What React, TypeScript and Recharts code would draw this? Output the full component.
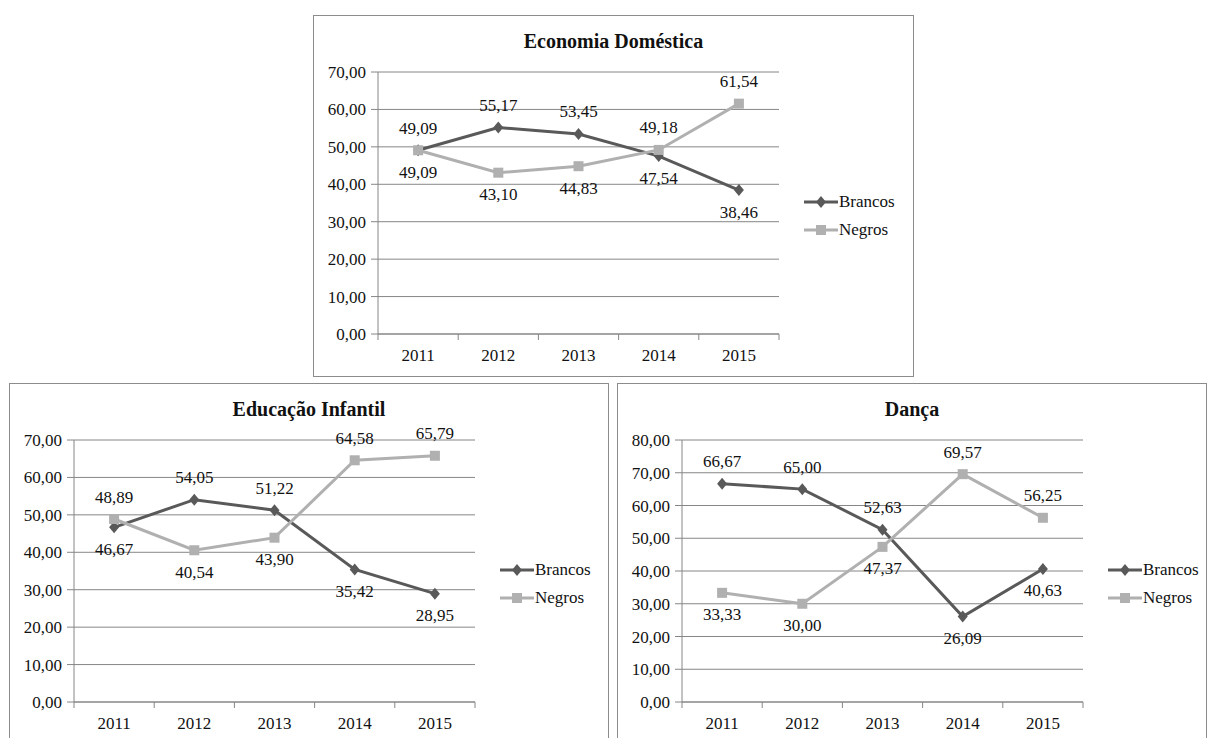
import React from 'react'
import { LineChart, Line, XAxis, YAxis, CartesianGrid, Legend } from 'recharts'

const years = ['2011', '2012', '2013', '2014', '2015']

const ecoBrancos = [49.09, 55.17, 53.45, 47.54, 38.46]
const ecoNegros = [49.09, 43.1, 44.83, 49.18, 61.54]
const eduBrancos = [46.67, 54.05, 51.22, 35.42, 28.95]
const eduNegros = [48.89, 40.54, 43.9, 64.58, 65.79]
const dancaBrancos = [66.67, 65.0, 52.63, 26.09, 40.63]
const dancaNegros = [33.33, 30.0, 47.37, 69.57, 56.25]

const ticks70 = [0, 10, 20, 30, 40, 50, 60, 70]
const ticks80 = [0, 10, 20, 30, 40, 50, 60, 70, 80]

type Pos = 'top' | 'bottom'
// where each data label sits relative to its point
const ecoBrancosPos: Pos[] = ['top', 'top', 'top', 'bottom', 'bottom']
const ecoNegrosPos: Pos[] = ['bottom', 'bottom', 'bottom', 'top', 'top']
const eduBrancosPos: Pos[] = ['bottom', 'top', 'top', 'bottom', 'bottom']
const eduNegrosPos: Pos[] = ['top', 'bottom', 'bottom', 'top', 'top']
const dancaBrancosPos: Pos[] = ['top', 'top', 'top', 'bottom', 'bottom']
const dancaNegrosPos: Pos[] = ['bottom', 'bottom', 'bottom', 'top', 'top']

const FONT = "'Liberation Serif', 'DejaVu Serif', 'Noto Serif', serif"
const DARK = '#595959'
const LIGHT = '#b0b0b0'
const AXIS = '#868686'

const PLOT_LEFT = 65
const PLOT_TOP = 57
const PLOT_W = 401
const PLOT_H = 262
const X_AXIS_H = 30

const fmt = (v: number) => v.toFixed(2).replace('.', ',')

const Diamond = (props: any) => {
  const { cx, cy } = props
  if (cx == null || cy == null) return null
  return <polygon points={`${cx},${cy - 6} ${cx + 5},${cy} ${cx},${cy + 6} ${cx - 5},${cy}`} fill={DARK} />
}

const Square = (props: any) => {
  const { cx, cy } = props
  if (cx == null || cy == null) return null
  return <rect x={cx - 5} y={cy - 5} width={10} height={10} fill={LIGHT} />
}

const makeLabel = (pos: Pos[]) => (props: any) => {
  const { x, y, value, index } = props
  const dy = pos[index] === 'top' ? -22 : 22
  return (
    <text x={x} y={y + dy} textAnchor="middle" dominantBaseline="central" style={{ fontFamily: FONT }} fontSize={17} fill="#111">
      {fmt(value)}
    </text>
  )
}

const series = [
  { name: 'Brancos', color: DARK, shape: 'diamond' },
  { name: 'Negros', color: LIGHT, shape: 'square' },
]

const LegendBox = () => (
  <div style={{ fontFamily: FONT, fontSize: 17, color: '#111' }}>
    {series.map(s => (
      <div key={s.name} style={{ display: 'flex', alignItems: 'center', height: 28 }}>
        <svg width={34} height={14} style={{ display: 'block' }}>
          <line x1={0} x2={34} y1={7} y2={7} stroke={s.color} strokeWidth={3} />
          {s.shape === 'diamond'
            ? <polygon points="17,1 22,7 17,13 12,7" fill={s.color} />
            : <rect x={12} y={2} width={10} height={10} fill={s.color} />}
        </svg>
        <span style={{ marginLeft: 1, lineHeight: '20px' }}>{s.name}</span>
      </div>
    ))}
  </div>
)

interface PanelProps {
  title: string
  brancos: number[]
  negros: number[]
  brancosPos: Pos[]
  negrosPos: Pos[]
  ticks: number[]
  left: number
  top: number
  width: number
  height: number
}

const Panel = ({ title, brancos, negros, brancosPos, negrosPos, ticks, left, top, width, height }: PanelProps) => {
  const data = years.map((y, i) => ({ year: y, Brancos: brancos[i], Negros: negros[i] }))
  const band = PLOT_W / years.length

  const XTick = (props: any) => {
    const { x, y, payload, index } = props
    return (
      <g>
        <line x1={x - band / 2} x2={x - band / 2} y1={y} y2={y + 6} stroke={AXIS} />
        {index === years.length - 1 && <line x1={x + band / 2} x2={x + band / 2} y1={y} y2={y + 6} stroke={AXIS} />}
        <text x={x} y={y + 21} textAnchor="middle" dominantBaseline="central" style={{ fontFamily: FONT }} fontSize={17} fill="#111">
          {payload.value}
        </text>
      </g>
    )
  }

  return (
    <div style={{ position: 'absolute', left, top, width, height, background: '#fff', fontFamily: FONT }}>
      <LineChart
        width={width}
        height={height}
        data={data}
        style={{ fontFamily: FONT }}
        margin={{ top: PLOT_TOP, right: width - PLOT_LEFT - PLOT_W, bottom: height - PLOT_TOP - PLOT_H - X_AXIS_H, left: 0 }}
      >
        <CartesianGrid vertical={false} stroke={AXIS} />
        <XAxis
          dataKey="year"
          height={X_AXIS_H}
          interval={0}
          padding={{ left: band / 2, right: band / 2 }}
          tickLine={false}
          tickSize={0}
          tickMargin={0}
          axisLine={{ stroke: AXIS }}
          tick={XTick}
        />
        <YAxis
          width={PLOT_LEFT}
          domain={[0, ticks[ticks.length - 1]]}
          ticks={ticks}
          interval={0}
          tickSize={7}
          tickMargin={5}
          tickLine={{ stroke: AXIS }}
          axisLine={{ stroke: AXIS }}
          tickFormatter={fmt}
          tick={{ fill: '#111', fontSize: 17, style: { fontFamily: FONT } }}
        />
        <Legend
          layout="vertical"
          align="center"
          verticalAlign="middle"
          content={<LegendBox />}
          wrapperStyle={{ left: 491, top: 173, width: 'auto', height: 'auto' }}
        />
        <Line
          type="linear"
          dataKey="Brancos"
          stroke={DARK}
          strokeWidth={3}
          dot={<Diamond />}
          activeDot={false}
          label={makeLabel(brancosPos)}
          isAnimationActive={false}
        />
        <Line
          type="linear"
          dataKey="Negros"
          stroke={LIGHT}
          strokeWidth={3}
          dot={<Square />}
          activeDot={false}
          label={makeLabel(negrosPos)}
          isAnimationActive={false}
        />
      </LineChart>
      <div
        style={{
          position: 'absolute', left: 0, top: 14, width, textAlign: 'center',
          fontFamily: FONT, fontWeight: 'bold', fontSize: 20, lineHeight: '24px', color: '#111',
        }}
      >
        {title}
      </div>
      <div style={{ position: 'absolute', inset: 0, border: '1px solid #8c8c8c', pointerEvents: 'none' }} />
    </div>
  )
}

export default function App() {
  return (
    <div style={{ position: 'absolute', left: 0, top: 0, width: 1207, height: 738, overflow: 'hidden', background: '#fff' }}>
      <Panel
        title="Economia Doméstica"
        brancos={ecoBrancos}
        negros={ecoNegros}
        brancosPos={ecoBrancosPos}
        negrosPos={ecoNegrosPos}
        ticks={ticks70}
        left={313}
        top={15}
        width={601}
        height={362}
      />
      <Panel
        title="Educação Infantil"
        brancos={eduBrancos}
        negros={eduNegros}
        brancosPos={eduBrancosPos}
        negrosPos={eduNegrosPos}
        ticks={ticks70}
        left={9}
        top={383}
        width={600}
        height={360}
      />
      <Panel
        title="Dança"
        brancos={dancaBrancos}
        negros={dancaNegros}
        brancosPos={dancaBrancosPos}
        negrosPos={dancaNegrosPos}
        ticks={ticks80}
        left={617}
        top={383}
        width={590}
        height={360}
      />
    </div>
  )
}
